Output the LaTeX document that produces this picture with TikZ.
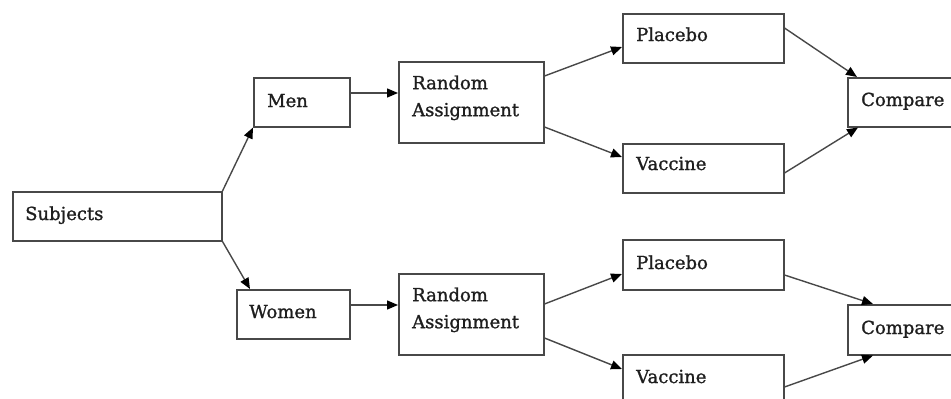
\documentclass[tikz,border=0pt]{standalone}
\usepackage{fontspec}
\setmainfont{DejaVu Serif}[FakeBold=1.2]
\usetikzlibrary{arrows.meta}
\definecolor{edge}{HTML}{484848}
\definecolor{ink}{HTML}{1E1E1E}
\begin{document}
\begin{tikzpicture}[x=1pt,y=-1pt,
  box/.style={draw=edge, line width=1.5pt, rectangle, inner sep=0pt, anchor=north west},
  lbl/.style={inner sep=0pt, anchor=base west, text=ink, font=\fontsize{18}{27}\selectfont},
  lbl2/.style={inner sep=0pt, anchor=north west, align=left, text=ink, font=\fontsize{18}{27}\selectfont},
  arr/.style={draw=edge, line width=1.4pt, -{Triangle[length=11pt,width=9pt,color=black]}}]
\clip (0,0) rectangle (951,399);
% boxes
\node[box, minimum width=209pt, minimum height=49pt] (subj) at (12,191) {};
\node[box, minimum width=96pt,  minimum height=49pt] (men)  at (253,77) {};
\node[box, minimum width=113pt, minimum height=49pt] (women) at (236,289) {};
\node[box, minimum width=145pt, minimum height=81pt] (ra1)  at (398,61) {};
\node[box, minimum width=145pt, minimum height=81pt] (ra2)  at (398,273) {};
\node[box, minimum width=161pt, minimum height=49pt] (pl1)  at (622,13) {};
\node[box, minimum width=161pt, minimum height=49pt] (va1)  at (622,143) {};
\node[box, minimum width=161pt, minimum height=50pt] (pl2)  at (622,239) {};
\node[box, minimum width=161pt, minimum height=60pt] (va2)  at (622,354) {};
\node[box, minimum width=120pt, minimum height=49pt] (cm1)  at (847,77) {};
\node[box, minimum width=120pt, minimum height=50pt] (cm2)  at (847,304) {};
% labels
\node[lbl] (tsubj) at (25,220) {Subjects};
\node[lbl] (tmen) at (267,107) {Men};
\node[lbl] (twomen) at (249,318) {Women};
\node[lbl2] (tra1) at (412,75.3) {Random\\Assignment};
\node[lbl2] (tra2) at (412,287.3) {Random\\Assignment};
\node[lbl] (tpl1) at (636,41) {Placebo};
\node[lbl] (tva1) at (636,170) {Vaccine};
\node[lbl] (tcm1) at (861,106) {Compare};
\node[lbl] (tpl2) at (636,269) {Placebo};
\node[lbl] (tva2) at (636,383) {Vaccine};
\node[lbl] (tcm2) at (861,334) {Compare};
% connectors
\draw[arr] (subj.north east) -- (men.south west);
\draw[arr] (subj.south east) -- ([xshift=14pt]women.north west);
\draw[arr] ([yshift=-16pt]men.north east) -- ([yshift=-16pt]ra1.west |- men.north east);
\draw[arr] ([yshift=-16pt]women.north east) -- ([yshift=-16pt]ra2.west |- women.north east);
% upper branch
\draw[arr] ([yshift=-15pt]ra1.north east) -- ([yshift=-34pt]pl1.north west);
\draw[arr] ([yshift=-66pt]ra1.north east) -- ([yshift=-14pt]va1.north west);
\draw[arr] ([yshift=-15pt]pl1.north east) -- ([xshift=10pt]cm1.north west);
\draw[arr] ([yshift=-30pt]va1.north east) -- ([xshift=11pt]cm1.south west);
% lower branch
\draw[arr] ([yshift=-31pt]ra2.north east) -- ([yshift=-35pt]pl2.north west);
\draw[arr] ([yshift=-65pt]ra2.north east) -- ([yshift=-15pt]va2.north west);
\draw[arr] ([yshift=-36pt]pl2.north east) -- ([xshift=26pt]cm2.north west);
\draw[arr] ([yshift=-33pt]va2.north east) -- ([xshift=26pt]cm2.south west);
\end{tikzpicture}
\end{document}
